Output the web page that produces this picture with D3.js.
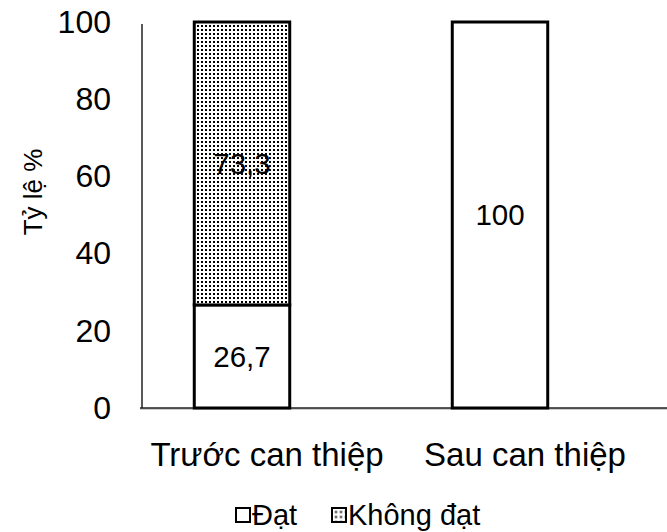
<!DOCTYPE html>
<html><head><meta charset="utf-8">
<script src="https://cdn.jsdelivr.net/npm/d3@7/dist/d3.min.js"></script>
<style>html,body{margin:0;padding:0;background:#fff}</style>
</head><body>
<svg id="c" width="667" height="532"></svg>
<script>
const categories = ["Trước can thiệp", "Sau can thiệp"];
const seriesNames = ["Đạt", "Không đạt"];
const datVals = [26.7, 100];
const khongDatVals = [73.3, 0];
const datLabels = ["26,7", "100"];
const khongDatLabels = ["73,3", ""];
const yTicks = [0, 20, 40, 60, 80, 100];

const svg = d3.select("#c");
const font = "Liberation Sans, Arial, sans-serif";

const defs = svg.append("defs");
const pat = defs.append("pattern").attr("id","dots").attr("patternUnits","userSpaceOnUse")
  .attr("width",4).attr("height",4);
pat.append("rect").attr("width",4).attr("height",4).attr("fill","#fff");
pat.append("rect").attr("x",1).attr("y",1).attr("width",2).attr("height",2).attr("fill","#000");
const pat2 = defs.append("pattern").attr("id","dotsL").attr("patternUnits","userSpaceOnUse")
  .attr("width",5).attr("height",5).attr("x",1.5).attr("y",1.5);
pat2.append("rect").attr("width",5).attr("height",5).attr("fill","#fff");
pat2.append("rect").attr("x",1.5).attr("y",1.5).attr("width",2).attr("height",2).attr("fill","#000");

const x = d3.scaleBand().domain(categories).range([113, 629]).paddingInner(0.63).paddingOuter(0.315);
const y = d3.scaleLinear().domain([0, 100]).range([408, 22]);

// axes
svg.append("line").attr("x1",142).attr("x2",142).attr("y1",24).attr("y2",y(0))
  .attr("stroke","#222").attr("stroke-width",1.5);
svg.append("line").attr("x1",140).attr("x2",667).attr("y1",y(0)+1).attr("y2",y(0)+1)
  .attr("stroke","#999").attr("stroke-width",1);
svg.append("line").attr("x1",140).attr("x2",667).attr("y1",y(0)).attr("y2",y(0))
  .attr("stroke","#222").attr("stroke-width",1.5);

const yAxis = d3.axisLeft(y).tickValues(yTicks).tickSize(0).tickPadding(0);
const gy = svg.append("g").attr("transform","translate(111,0)").call(yAxis);
gy.select(".domain").remove();
gy.selectAll("text").attr("font-family",font).attr("font-size",32).attr("fill","#000");

const xAxis = d3.axisBottom(x).tickSize(0).tickPadding(0);
const gx = svg.append("g").attr("transform","translate(25,443)").call(xAxis);
gx.select(".domain").remove();
gx.selectAll("text").attr("font-family",font).attr("font-size",33).attr("fill","#000").attr("dy","0.71em");

// bars
const stack = categories.map((c,i)=>({c, d:datVals[i], k:khongDatVals[i], dl:datLabels[i], kl:khongDatLabels[i]}));
const bw = x.bandwidth();
svg.selectAll("rect.dat").data(stack).enter().append("rect").attr("class","dat")
  .attr("x",d=>x(d.c)).attr("width",bw).attr("y",d=>y(d.d)).attr("height",d=>y(0)-y(d.d))
  .attr("fill","#fff").attr("stroke","#000").attr("stroke-width",3);
svg.selectAll("rect.kd").data(stack.filter(d=>d.k>0)).enter().append("rect").attr("class","kd")
  .attr("x",d=>x(d.c)).attr("width",bw).attr("y",d=>y(d.d+d.k)).attr("height",d=>y(d.d)-y(d.d+d.k))
  .attr("fill","url(#dots)").attr("stroke","#000").attr("stroke-width",3);

svg.selectAll("text.dl").data(stack).enter().append("text").attr("class","dl")
  .attr("x",d=>x(d.c)+bw/2).attr("y",d=>y(d.d/2)).attr("dy","0.35em")
  .attr("text-anchor","middle").attr("font-family",font).attr("font-size",29.5).text(d=>d.dl);
svg.selectAll("text.kl").data(stack.filter(d=>d.k>0)).enter().append("text").attr("class","kl")
  .attr("x",d=>x(d.c)+bw/2).attr("y",d=>y(d.d+d.k/2)).attr("dy","0.35em")
  .attr("text-anchor","middle").attr("font-family",font).attr("font-size",29.5).text(d=>d.kl);

// y title
svg.append("text").attr("transform","translate(33,192) rotate(-90)").attr("dy","0.35em")
  .attr("text-anchor","middle").attr("font-family",font).attr("font-size",26).text("Tỷ lệ %");

// legend
const leg = [{n:seriesNames[0], f:"#fff", x:236},{n:seriesNames[1], f:"url(#dotsL)", x:332}];
const lg = svg.selectAll("g.leg").data(leg).enter().append("g").attr("class","leg")
  .attr("transform",d=>`translate(${d.x},508)`);
lg.append("rect").attr("width",14).attr("height",14).attr("fill",d=>d.f).attr("stroke","#000").attr("stroke-width",2);
lg.append("text").attr("x",16).attr("y",7).attr("dy","0.35em").attr("font-family",font).attr("font-size",29).text(d=>d.n);
</script>
</body></html>
